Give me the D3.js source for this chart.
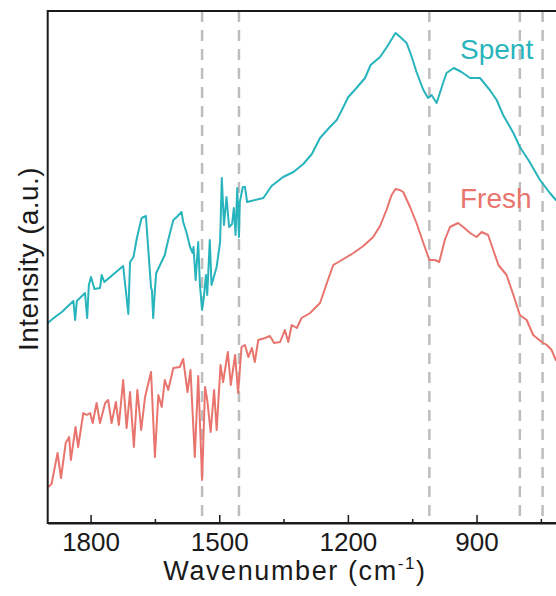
<!DOCTYPE html>
<html><head><meta charset="utf-8">
<script src="https://cdn.jsdelivr.net/npm/d3@7"></script>
<style>html,body{margin:0;padding:0;background:#fff;overflow:hidden}</style>
</head><body>
<svg id="chart" width="556" height="596"></svg>
<script>
// Wavenumber (cm-1) and intensity (a.u.)
const spentWavenumber = [1900,1883,1867,1840,1836,1832,1813,1808,1804,1799,1791,1778,1774,1768,1724,1712,1708,1700,1692,1681,1671,1659,1657,1654,1650,1647,1638,1627,1619,1607,1599,1588,1584,1576,1568,1562,1560,1555,1549,1545,1540,1536,1531,1528,1522,1518,1506,1498,1494,1489,1483,1477,1470,1466,1462,1458,1454,1452,1445,1440,1435,1397,1378,1351,1327,1304,1284,1265,1242,1226,1214,1199,1180,1160,1147,1125,1109,1089,1083,1063,1051,1040,1024,1013,1005,993,978,970,953,935,915,892,869,853,838,814,799,779,752,729,715,701];
const spentIntensity  = [200,206,211,222,203,222,230,205,238,246,234,235,248,241,257,209,261,266,285,305,307,235,233,205,233,250,258,268,283,303,306,311,301,290,276,270,276,243,281,238,213,225,248,228,283,238,256,281,345,298,326,296,299,315,288,335,286,321,336,336,321,325,337,346,351,359,369,385,396,403,413,426,435,445,458,466,476,490,488,480,466,451,433,425,428,420,440,450,455,451,445,445,433,423,408,390,376,363,343,330,323,317];

const freshWavenumber = [1899,1891,1877,1869,1858,1850,1846,1835,1829,1817,1809,1801,1795,1786,1778,1766,1759,1751,1741,1734,1724,1716,1708,1699,1691,1682,1673,1659,1650,1642,1634,1627,1619,1607,1592,1584,1574,1567,1557,1549,1540,1533,1528,1520,1512,1506,1497,1491,1480,1473,1463,1456,1448,1440,1432,1424,1417,1409,1393,1382,1372,1358,1347,1339,1331,1319,1308,1288,1265,1249,1234,1218,1187,1164,1141,1125,1110,1098,1089,1079,1071,1055,1040,1024,1010,997,987,974,962,943,931,915,900,888,873,861,849,830,814,799,783,768,748,736,725,715,701];
const freshIntensity  = [36,39,70,45,80,86,63,96,76,110,108,110,100,120,100,120,123,100,121,98,143,95,131,76,133,93,126,151,66,128,116,143,133,155,156,164,131,153,66,147,43,136,123,91,133,93,158,141,171,138,168,130,176,178,166,175,161,183,185,187,180,181,193,181,198,195,205,210,220,240,258,262,270,277,286,297,313,328,334,333,331,316,300,280,263,263,261,283,296,300,296,290,286,291,288,273,258,248,228,208,203,188,181,178,173,163,158];

const seriesNames = ["Spent", "Fresh"];
const markerLines = [1540, 1454, 1010, 799, 746];
const majorTicks = [1800, 1500, 1200, 900];
const minorTicks = [1650, 1350, 1050, 750];

const colors = {Spent: "#27b4bc", Fresh: "#e8746d"};

const svg = d3.select("#chart");
const pLeft = 47.7, pRight = 562.3, pTop = 11, pBottom = 523;

const x = d3.scaleLinear().domain([1900, 700]).range([pLeft, pRight]);
const y = d3.scaleLinear().domain([0, 512]).range([pBottom, pTop]);

const font = "Arial, 'Liberation Sans', Helvetica, sans-serif";

// dashed marker lines
svg.append("g").selectAll("line").data(markerLines).join("line")
  .attr("x1", d => x(d)).attr("x2", d => x(d))
  .attr("y1", pTop).attr("y2", pBottom)
  .attr("stroke", "#bdbdbd").attr("stroke-width", 2.5)
  .attr("stroke-dasharray", "11,8");

const line = d3.line().x(d => x(d[0])).y(d => y(d[1]));
const spent = spentWavenumber.map((w, i) => [w, spentIntensity[i]]);
const fresh = freshWavenumber.map((w, i) => [w, freshIntensity[i]]);

svg.append("path").datum(fresh).attr("d", line)
  .attr("fill", "none").attr("stroke", colors.Fresh).attr("stroke-width", 2).attr("stroke-linejoin", "round");
svg.append("path").datum(spent).attr("d", line)
  .attr("fill", "none").attr("stroke", colors.Spent).attr("stroke-width", 2).attr("stroke-linejoin", "round");

// frame
svg.append("rect").attr("x", pLeft).attr("y", pTop).attr("width", pRight - pLeft).attr("height", pBottom - pTop)
  .attr("fill", "none").attr("stroke", "#1a1a1a").attr("stroke-width", 2);

// x axis
const ax = svg.append("g").attr("transform", `translate(0,${pBottom})`)
  .call(d3.axisBottom(x).tickValues(majorTicks).tickSizeInner(-8).tickSizeOuter(0).tickPadding(10).tickFormat(d3.format("d")));
ax.select(".domain").attr("stroke", "#1a1a1a").attr("stroke-width", 2);
ax.selectAll(".tick line").attr("stroke", "#1a1a1a").attr("stroke-width", 1.5);
ax.selectAll(".tick text").attr("font-family", font).attr("font-size", 26).attr("fill", "#1a1a1a");

const axm = svg.append("g").attr("transform", `translate(0,${pBottom})`)
  .call(d3.axisBottom(x).tickValues(minorTicks).tickSizeInner(-4).tickSizeOuter(0).tickFormat(""));
axm.select(".domain").remove();
axm.selectAll(".tick line").attr("stroke", "#1a1a1a").attr("stroke-width", 1.5);

// axis titles
const xt = svg.append("text").attr("x", 295).attr("y", 580).attr("text-anchor", "middle")
  .attr("font-family", font).attr("font-size", 27).attr("letter-spacing", 1.6).attr("fill", "#1a1a1a");
xt.append("tspan").text("Wavenumber (cm");
xt.append("tspan").text("-1").attr("font-size", 17).attr("dy", -11);
xt.append("tspan").text(")").attr("dy", 11);

svg.append("text").attr("transform", "translate(38,259) rotate(-90)").attr("text-anchor", "middle")
  .attr("font-family", font).attr("font-size", 28).attr("letter-spacing", 0.4).attr("fill", "#1a1a1a").text("Intensity (a.u.)");

// series labels
svg.append("text").attr("x", 460).attr("y", 59).attr("font-family", font).attr("font-size", 28)
  .attr("fill", colors.Spent).text(seriesNames[0]);
svg.append("text").attr("x", 460).attr("y", 208).attr("font-family", font).attr("font-size", 28)
  .attr("fill", colors.Fresh).text(seriesNames[1]);
</script>
</body></html>
